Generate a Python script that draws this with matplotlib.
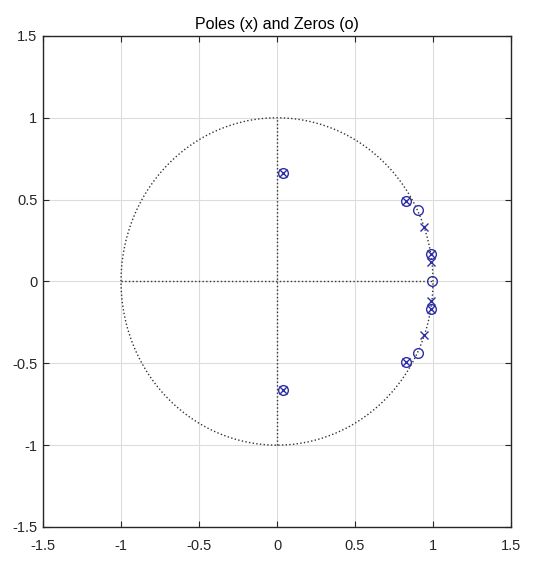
import numpy as np
import matplotlib.pyplot as plt

plt.rcParams['font.family'] = ['Liberation Sans', 'DejaVu Sans']

# zeros and poles (conjugate pairs)
zeros_re = [0.04, 0.04, 0.83, 0.83, 0.905, 0.905, 0.985, 0.985, 0.995]
zeros_im = [0.66, -0.66, 0.49, -0.49, 0.435, -0.435, 0.17, -0.17, 0.0]
poles_re = [0.04, 0.04, 0.83, 0.83, 0.94, 0.94, 0.985, 0.985, 0.985, 0.985]
poles_im = [0.66, -0.66, 0.49, -0.49, 0.33, -0.33, 0.17, -0.17, 0.12, -0.12]

ticks = [-1.5, -1, -0.5, 0, 0.5, 1, 1.5]
tick_labels = ['-1.5', '-1', '-0.5', '0', '0.5', '1', '1.5']

fig = plt.figure(figsize=(5.33, 5.62), dpi=100)
ax = fig.add_axes([0.0807, 0.0623, 0.878, 0.8737])

# unit circle and axes through origin
t = np.linspace(0, 2 * np.pi, 400)
ax.plot(np.cos(t), np.sin(t), ':', color='#333333', linewidth=1)
ax.plot([-1, 1], [0, 0], ':', color='#333333', linewidth=1)
ax.plot([0, 0], [-1, 1], ':', color='#333333', linewidth=1)

ax.plot(zeros_re, zeros_im, 'o', markersize=7, markerfacecolor='none',
        markeredgecolor='#2e2ea6', markeredgewidth=1)
ax.plot(poles_re, poles_im, 'x', markersize=6,
        markeredgecolor='#2e2ea6', markeredgewidth=1)

ax.set_xlim(-1.5, 1.5)
ax.set_ylim(-1.5, 1.5)
ax.set_xticks(ticks)
ax.set_xticklabels(tick_labels)
ax.set_yticks(ticks)
ax.set_yticklabels(tick_labels)
ax.tick_params(direction='in', top=True, right=True, labelsize=10.5,
               colors='#262626', length=4)
ax.tick_params(axis='x', pad=9)
ax.tick_params(axis='y', pad=4)
ax.grid(True, color='#dcdcdc', linewidth=0.8)
ax.set_axisbelow(True)
for s in ax.spines.values():
    s.set_color('#262626')
    s.set_linewidth(1)

ax.set_title('Poles (x) and Zeros (o)', fontsize=11.5, pad=5)

fig.savefig('out.png', dpi=100)
